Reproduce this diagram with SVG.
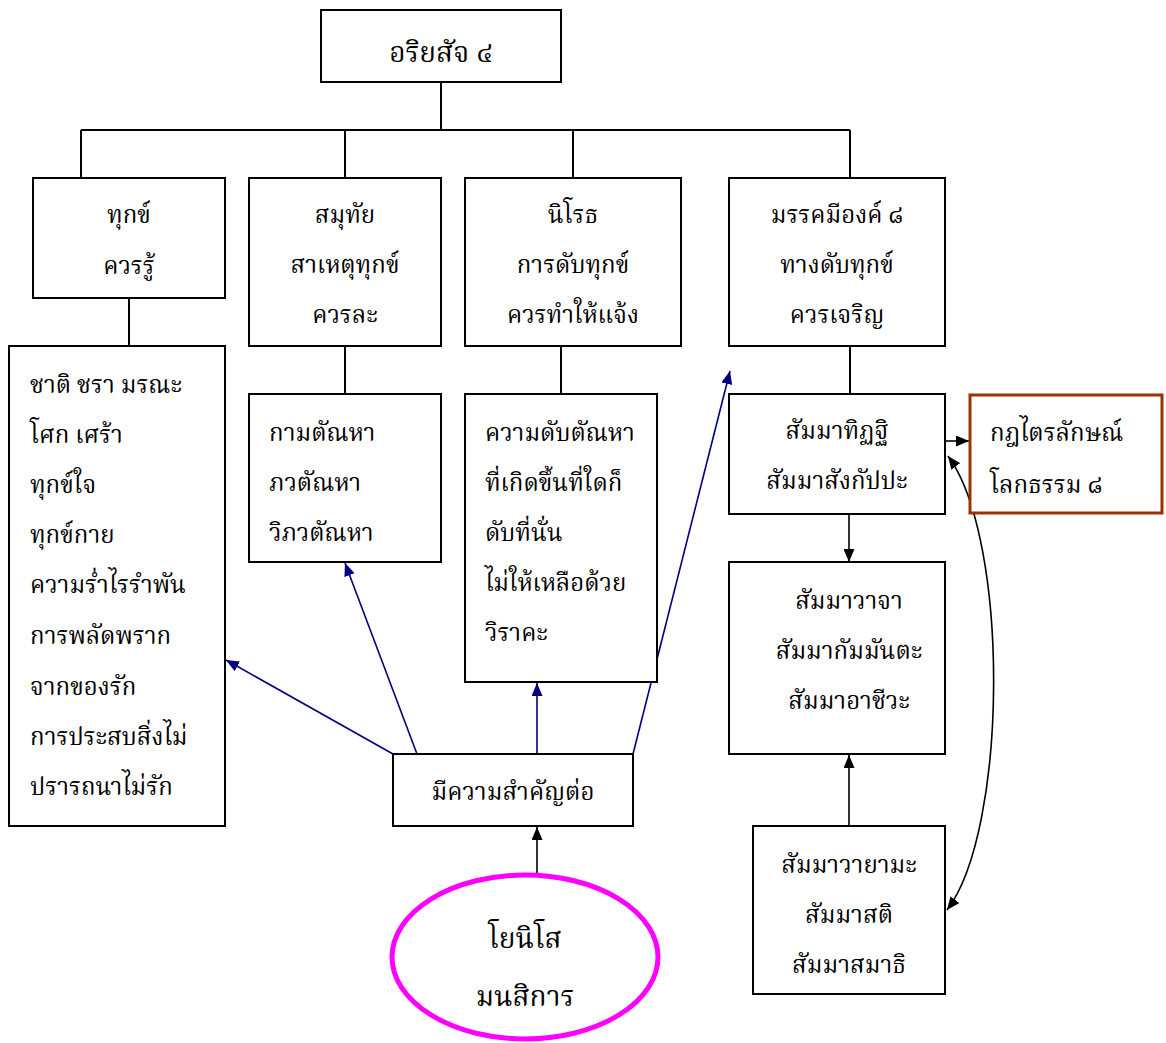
<svg xmlns="http://www.w3.org/2000/svg" width="1166" height="1043" viewBox="0 0 1166 1043">
<style>
text{font-family:"Liberation Serif","Noto Serif Thai","Noto Sans Thai","Norasi","Loma","Garuda",serif;font-size:24px;fill:#000}
.c{text-anchor:middle}
.big{font-size:28px}
.box{fill:#fff;stroke:#000;stroke-width:2}
.tree{fill:none;stroke:#000;stroke-width:2}
.nv{fill:none;stroke:#000080;stroke-width:1.6;marker-end:url(#an)}
.bk{fill:none;stroke:#000;stroke-width:1.6;marker-end:url(#ab)}
</style>
<defs>
<marker id="an" markerUnits="userSpaceOnUse" viewBox="0 0 13 11" markerWidth="13" markerHeight="11" refX="13" refY="5.5" orient="auto"><path d="M0,0L13,5.5L0,11z" fill="#000080"/></marker>
<marker id="ab" markerUnits="userSpaceOnUse" viewBox="0 0 13 11" markerWidth="13" markerHeight="11" refX="13" refY="5.5" orient="auto-start-reverse"><path d="M0,0L13,5.5L0,11z" fill="#000"/></marker>
</defs>
<rect width="1166" height="1043" fill="#fff"/>
<g id="connectors">
<path class="tree" d="M441,82V130M81,130H850M81,130V178M345,130V178M573,130V178M850,130V178"/>
<path class="tree" d="M129,298V346M345,346V394M561,346V394M850,346V394"/>
<path class="nv" d="M393,754L226,660"/>
<path class="nv" d="M417,754L345,563"/>
<path class="nv" d="M537,754V683"/>
<path class="nv" d="M633,754L730,371"/>
<path class="bk" d="M537,876V827"/>
<path class="bk" d="M849,514V562"/>
<path class="bk" d="M849,826V755"/>
<path class="bk" d="M945,441H969"/>
<path class="bk" style="marker-start:url(#ab)" d="M948,456C1010,540 1008,830 947,910"/>
</g>
<g id="root"><rect class="box" x="321" y="10" width="240" height="72"/><text class="c big" x="441" y="62">อริยสัจ ๔</text></g>
<g id="dukkha"><rect class="box" x="33" y="178" width="192" height="120"/><text class="c" x="129" y="223">ทุกข์</text><text class="c" x="129" y="274">ควรรู้</text></g>
<g id="samudaya"><rect class="box" x="249" y="178" width="192" height="168"/><text class="c" x="345" y="223">สมุทัย</text><text class="c" x="345" y="273">สาเหตุทุกข์</text><text class="c" x="345" y="323">ควรละ</text></g>
<g id="nirodha"><rect class="box" x="465" y="178" width="216" height="168"/><text class="c" x="573" y="223">นิโรธ</text><text class="c" x="573" y="273">การดับทุกข์</text><text class="c" x="573" y="323">ควรทำให้แจ้ง</text></g>
<g id="magga"><rect class="box" x="729" y="178" width="216" height="168"/><text class="c" x="837" y="223">มรรคมีองค์ ๘</text><text class="c" x="837" y="273">ทางดับทุกข์</text><text class="c" x="837" y="323">ควรเจริญ</text></g>
<g id="jati"><rect class="box" x="9" y="346" width="216" height="480"/>
<text x="30" y="393">ชาติ ชรา มรณะ</text><text x="30" y="443">โศก เศร้า</text><text x="30" y="493">ทุกข์ใจ</text><text x="30" y="543">ทุกข์กาย</text><text x="30" y="593">ความร่ำไรรำพัน</text><text x="30" y="644">การพลัดพราก</text><text x="30" y="695">จากของรัก</text><text x="30" y="745">การประสบสิ่งไม่</text><text x="30" y="795">ปรารถนาไม่รัก</text></g>
<g id="tanha"><rect class="box" x="249" y="394" width="192" height="168"/><text x="269" y="441">กามตัณหา</text><text x="269" y="491">ภวตัณหา</text><text x="269" y="541">วิภวตัณหา</text></g>
<g id="dab"><rect class="box" x="465" y="394" width="192" height="288"/><text x="485" y="441">ความดับตัณหา</text><text x="485" y="491">ที่เกิดขึ้นที่ใดก็</text><text x="485" y="541">ดับที่นั่น</text><text x="485" y="591">ไม่ให้เหลือด้วย</text><text x="485" y="641">วิราคะ</text></g>
<g id="ditthi"><rect class="box" x="729" y="394" width="216" height="120"/><text class="c" x="837" y="439">สัมมาทิฏฐิ</text><text class="c" x="837" y="489">สัมมาสังกัปปะ</text></g>
<g id="trilak"><rect x="970" y="395" width="192" height="118" fill="#fff" stroke="#993300" stroke-width="3"/><text x="990" y="441">กฎไตรลักษณ์</text><text x="990" y="493">โลกธรรม ๘</text></g>
<g id="vaca"><rect class="box" x="729" y="562" width="216" height="192"/><text class="c" x="849" y="609">สัมมาวาจา</text><text class="c" x="849" y="659">สัมมากัมมันตะ</text><text class="c" x="849" y="709">สัมมาอาชีวะ</text></g>
<g id="vayama"><rect class="box" x="753" y="826" width="192" height="168"/><text class="c" x="849" y="873">สัมมาวายามะ</text><text class="c" x="849" y="923">สัมมาสติ</text><text class="c" x="849" y="973">สัมมาสมาธิ</text></g>
<g id="important"><rect class="box" x="393" y="754" width="240" height="72"/><text class="c" x="513" y="800">มีความสำคัญต่อ</text></g>
<g id="yoniso"><ellipse cx="525" cy="957" rx="133" ry="82" fill="#fff" stroke="#ff00ff" stroke-width="5"/><text class="c big" x="525" y="948">โยนิโส</text><text class="c big" x="525" y="1006">มนสิการ</text></g>
</svg>
